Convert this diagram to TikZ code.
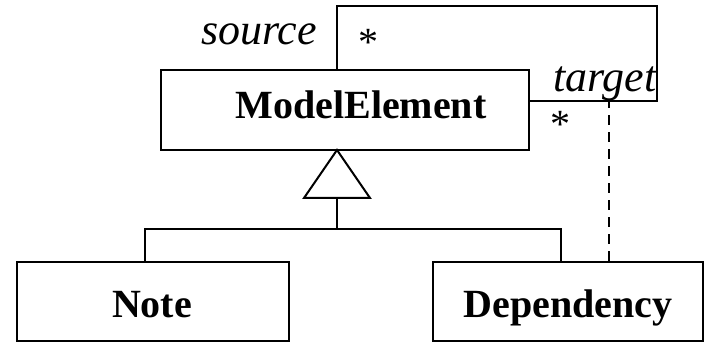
\documentclass[tikz,border=0pt]{standalone}
\usepackage{fontspec}
\setmainfont{Liberation Serif}
\begin{document}
\begin{tikzpicture}[x=1pt,y=-1pt,line width=2pt,
  classbox/.style={draw,rectangle,inner sep=0pt},
  boldlabel/.style={anchor=base,inner sep=0pt,font=\fontsize{40}{48}\selectfont\bfseries},
  rolelabel/.style={anchor=base,inner sep=0pt,font=\fontsize{44}{52}\selectfont\itshape},
  multlabel/.style={inner sep=0pt,font=\fontsize{40}{48}\selectfont},
  dependencyline/.style={dash pattern=on 10pt off 7pt}]
\useasboundingbox (0,0) rectangle (705,342);

% classes
\node[classbox,minimum width=368pt,minimum height=80pt] (me) at (345,110) {};
\node[classbox,minimum width=272pt,minimum height=79pt] (note) at (153,301.5) {};
\node[classbox,minimum width=270pt,minimum height=79pt] (dep) at (568,301.5) {};

\node[boldlabel] (metext) at (361,119) {ModelElement};
\node[boldlabel] (notetext) at (152,317) {Note};
\node[boldlabel] (deptext) at (568,317) {Dependency};

% self association of ModelElement
\coordinate (loopa) at (337,6);
\coordinate (loopb) at (657,6);
\coordinate (loopc) at (657,101);
\draw (me.north -| loopa) -- (loopa) -- (loopb) -- (loopc) -- (me.east |- loopc);

\node[rolelabel] (src) at (259,45) {source};
\node[multlabel] (srcmult) at (368,42) {*};
\node[rolelabel] (tgt) at (605,92) {target};
\node[multlabel] (tgtmult) at (560,124) {*};

% generalization
\coordinate (apex) at (337,150);
\coordinate (basel) at (304,198);
\coordinate (baser) at (370,198);
\coordinate (basem) at (337,198);
\coordinate (fork) at (337,229);
\coordinate (forkl) at (145,229);
\coordinate (forkr) at (561,229);
\draw[line join=miter] (apex) -- (baser) -- (basel) -- cycle;
\draw (basem) -- (fork);
\draw (note.north -| forkl) -- (forkl) -- (forkr) -- (dep.north -| forkr);

% dependency attached to the association
\coordinate (attach) at (609,101);
\draw[dependencyline,line width=1.8pt] (dep.north -| attach) -- (attach);
\end{tikzpicture}
\end{document}
